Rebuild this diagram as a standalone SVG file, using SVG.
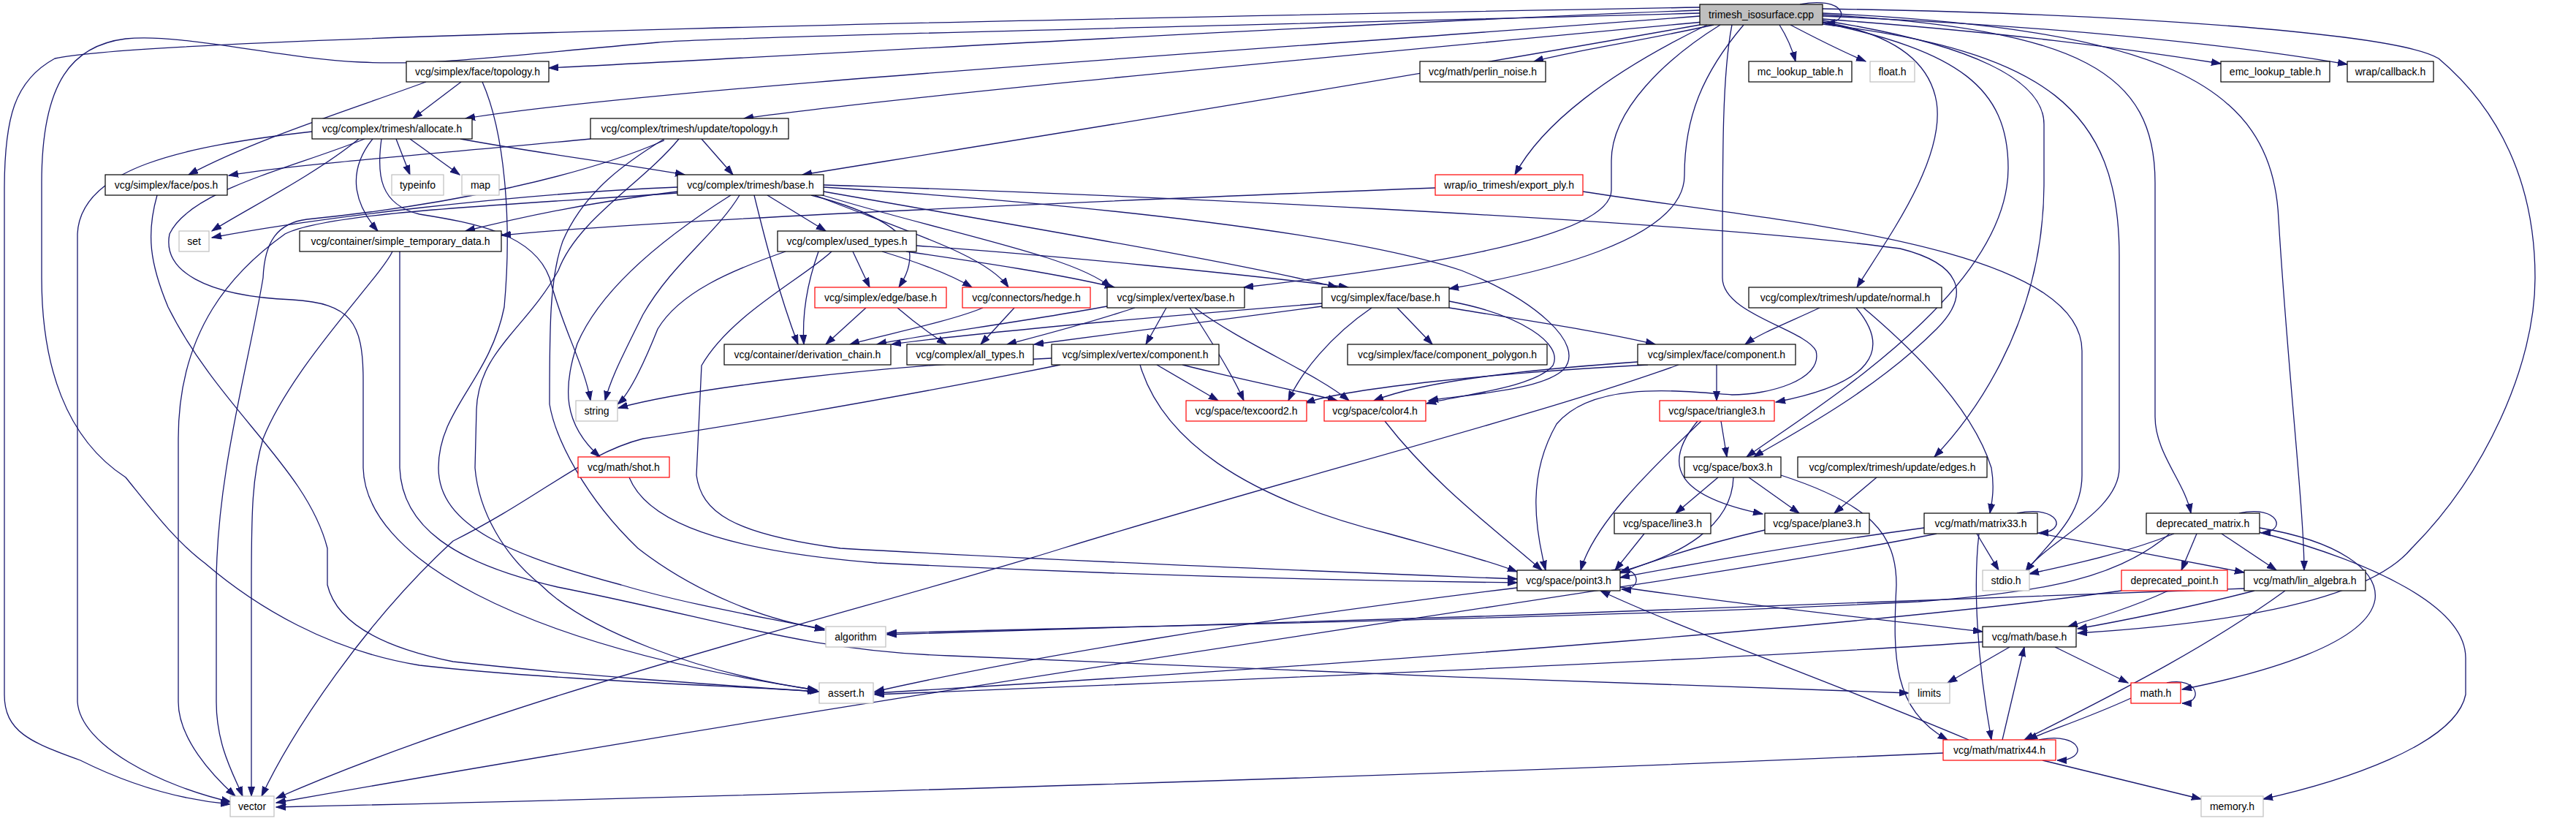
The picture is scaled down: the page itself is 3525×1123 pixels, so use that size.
<svg xmlns="http://www.w3.org/2000/svg" width="3525" height="1123" viewBox="0 0 3525 1123">
<defs>
<style>
.node rect{fill:#fff;stroke:#000;stroke-width:1.2}
.node.g rect{stroke:#bfbfbf}
.node.r rect{stroke:#ff0000}
.node.root rect{fill:#bfbfbf;stroke:#000}
.node text{font-family:"Liberation Sans",Arial,sans-serif;font-size:14px;text-anchor:middle;fill:#000}
#edges path{fill:none;stroke:#191970;stroke-width:1.3;marker-end:url(#ah)}
</style>
<marker id="ah" markerWidth="14" markerHeight="10" refX="13" refY="5" orient="auto" markerUnits="userSpaceOnUse">
<path d="M0,0.5 L13,5 L0,9.5 z" fill="#191970" stroke="#191970" stroke-width="1"/>
</marker>
</defs>
<rect width="3525" height="1123" fill="#fff"/>
<g id="edges">
<path d="M2326,14 C1900,30 1200,70 751,93"/>
<path d="M2326,22 C1700,70 900,120 637,162"/>
<path d="M2330,30 C1800,80 1250,130 1018,162"/>
<path d="M2345,34 C2250,55 2150,70 2099,84"/>
<path d="M2435,34 C2445,50 2452,65 2457,84"/>
<path d="M2450,34 C2490,55 2520,70 2553,84"/>
<path d="M2494,26 C2750,45 2900,65 3039,87"/>
<path d="M2494,22 C2800,35 3050,60 3212,88"/>
<path d="M2326,34 C1900,110 1400,190 1098,239"/>
<path d="M2336,34 C2200,100 2110,170 2073,239"/>
<path d="M2354,34 C2280,80 2205,150 2205,220 L2205,260 C2205,330 1900,370 1702,393"/>
<path d="M2386,34 C2330,100 2305,160 2305,240 C2305,330 2100,375 1983,395"/>
<path d="M2494,30 C2585,45 2640,80 2650,140 C2662,220 2580,330 2541,393"/>
<path d="M2494,28 C2700,60 2797,110 2797,170 L2797,250 C2797,450 2690,580 2647,625"/>
<path d="M2494,31 C2680,70 2748,120 2748,230 C2748,400 2480,560 2390,625"/>
<path d="M2370,34 C2357,100 2357,200 2357,380 C2357,430 2470,450 2485,480 C2495,520 2420,540 2370,540 C2300,535 2180,520 2130,580 C2090,650 2100,720 2115,780"/>
<path d="M2494,33 C2800,70 2900,150 2900,350 L2900,640 C2900,700 2800,740 2772,782"/>
<path d="M2494,20 C2850,40 2949,100 2949,250 L2949,570 C2949,620 2990,660 2998,702"/>
<path d="M2494,18 C2950,40 3110,110 3118,300 C3130,500 3153,700 3153,780"/>
<path d="M2494,12 C2900,18 3280,45 3337,80 C3420,150 3469,250 3469,380 C3469,500 3400,650 3300,750 C3250,810 3100,850 2843,866"/>
<path d="M2326,10 C1500,25 200,50 75,80 C20,110 6,160 6,260 L6,950 C6,1000 40,1015 110,1040 C190,1080 260,1095 315,1100"/>
<path d="M2326,18 C1700,35 1000,50 900,58 C700,75 600,90 494,85 C380,80 250,45 172,53 C100,62 57,110 57,250 L57,380 C57,500 90,600 172,653 C210,700 240,740 280,770 C350,830 450,890 574,910 C750,930 1000,938 1121,946"/>
<path d="M2463,6 C2525,-6 2535,30 2498,32"/>
<path d="M631,112 L565,162"/>
<path d="M583,112 C480,150 350,190 258,239"/>
<path d="M660,112 C690,180 701,300 690,420 C670,520 600,560 600,640 C600,720 700,760 850,800 C950,830 1080,850 1128,862"/>
<path d="M542,190 L561,239"/>
<path d="M561,190 L629,239"/>
<path d="M491,190 C430,240 330,290 290,316"/>
<path d="M510,190 C470,240 490,285 517,316"/>
<path d="M630,190 C750,212 860,225 937,239"/>
<path d="M427,180 C250,200 110,230 106,320 L106,960 C110,1020 220,1075 316,1097"/>
<path d="M522,190 C515,240 520,280 574,293 C650,305 730,320 752,380 C770,450 800,500 808,548"/>
<path d="M499,190 C400,230 260,260 232,320 C222,370 280,405 400,410 C480,415 497,440 497,520 L497,640 C500,760 700,880 1118,944"/>
<path d="M808,190 C600,210 400,225 313,240"/>
<path d="M960,190 L1003,239"/>
<path d="M929,190 C880,250 790,300 764,370 C720,450 655,480 652,560 L650,640 C655,700 690,760 740,800 C800,860 950,920 1118,944"/>
<path d="M909,190 C860,220 800,260 770,330 C752,380 752,450 752,553 C760,600 800,680 873,750 C950,810 1050,850 1128,860"/>
<path d="M909,192 C800,240 620,280 420,300 C380,305 362,330 360,380 C340,500 296,650 296,800 L296,960 C296,1020 320,1060 332,1089"/>
<path d="M215,267 C200,320 205,360 230,420 C300,560 420,640 448,750 L448,800 C460,850 520,885 620,905 C800,925 1000,938 1118,946"/>
<path d="M1050,267 L1130,316"/>
<path d="M927,256 C700,265 420,300 290,325"/>
<path d="M927,262 C820,275 720,295 637,316"/>
<path d="M927,264 C700,280 450,290 390,320 C320,370 244,450 244,600 L244,960 C244,1010 290,1060 322,1089"/>
<path d="M1012,267 C980,320 920,360 880,430 C850,490 835,520 828,548"/>
<path d="M1032,267 C1045,320 1065,400 1092,471"/>
<path d="M1110,267 C1200,290 1245,320 1245,350 C1245,370 1235,385 1230,393"/>
<path d="M1115,267 C1250,320 1350,350 1380,393"/>
<path d="M1122,266 C1300,320 1470,350 1520,393"/>
<path d="M1127,262 C1400,310 1700,360 1830,393"/>
<path d="M1000,267 C900,330 820,400 790,470 C770,530 770,580 821,625"/>
<path d="M1127,256 C1500,280 1850,320 2000,370 C2100,410 2170,470 2140,505 C2110,535 2000,540 1955,548"/>
<path d="M1127,253 C1500,265 2300,300 2600,340 C2680,360 2700,400 2650,450 C2560,540 2440,600 2400,625"/>
<path d="M1167,344 L1190,393"/>
<path d="M1207,344 C1260,360 1300,375 1330,393"/>
<path d="M1240,344 C1350,360 1450,375 1525,393"/>
<path d="M1254,336 C1450,350 1700,375 1845,393"/>
<path d="M1120,344 C1100,400 1098,440 1100,471"/>
<path d="M1075,344 C1000,370 930,400 900,450 C880,500 860,540 845,553"/>
<path d="M1138,344 C1100,380 1000,430 960,500 L953,650 C960,700 1000,730 1150,750 C1500,770 1900,785 2076,792"/>
<path d="M1185,421 L1130,471"/>
<path d="M1228,421 C1250,440 1270,455 1295,471"/>
<path d="M1345,421 C1300,440 1200,460 1163,471"/>
<path d="M1388,421 L1342,471"/>
<path d="M1515,419 C1400,440 1250,460 1200,471"/>
<path d="M1553,421 C1480,445 1420,460 1378,471"/>
<path d="M1596,421 L1568,471"/>
<path d="M1628,421 C1660,470 1690,520 1702,548"/>
<path d="M1635,421 C1700,470 1800,510 1846,548"/>
<path d="M1809,415 C1500,440 1300,460 1220,471"/>
<path d="M1809,419 C1650,440 1500,460 1415,471"/>
<path d="M1912,421 L1960,471"/>
<path d="M1983,421 C2100,440 2200,455 2265,471"/>
<path d="M1877,421 C1820,460 1780,510 1763,548"/>
<path d="M1983,412 C2080,430 2140,470 2125,500 C2100,530 2000,540 1952,552"/>
<path d="M2490,421 C2450,440 2410,455 2388,471"/>
<path d="M2540,421 C2590,480 2560,525 2430,550"/>
<path d="M2550,421 C2620,480 2700,560 2725,640 C2730,670 2725,690 2723,702"/>
<path d="M2349,499 L2349,548"/>
<path d="M2241,495 C2100,505 1950,520 1880,548"/>
<path d="M2255,499 C2050,510 1850,530 1786,551"/>
<path d="M2297,499 C2100,570 1780,650 1454,750 C1200,830 700,950 378,1092"/>
<path d="M1583,499 L1667,548"/>
<path d="M1618,499 C1700,520 1780,535 1830,548"/>
<path d="M1439,490 C1200,500 950,530 846,558"/>
<path d="M1451,499 C1200,550 950,590 880,600 C800,620 740,680 620,740 C500,850 400,1000 358,1089"/>
<path d="M1560,499 C1590,600 1700,680 1900,730 C1990,755 2040,768 2076,782"/>
<path d="M1895,576 C1960,660 2040,720 2110,780"/>
<path d="M2355,576 L2363,625"/>
<path d="M2328,576 C2250,650 2180,720 2163,780"/>
<path d="M2323,576 C2270,640 2300,680 2412,703"/>
<path d="M2351,653 L2293,702"/>
<path d="M2393,653 L2462,702"/>
<path d="M2372,653 C2370,720 2300,760 2217,782"/>
<path d="M2437,650 C2560,690 2595,730 2595,800 C2590,900 2590,970 2665,1012"/>
<path d="M2568,653 L2510,702"/>
<path d="M2250,730 L2210,780"/>
<path d="M2415,725 C2350,740 2280,760 2217,784"/>
<path d="M2633,722 C2500,740 2350,765 2217,790"/>
<path d="M2760,702 C2820,690 2830,728 2790,729"/>
<path d="M2705,730 L2735,780"/>
<path d="M2708,730 C2700,800 2705,900 2725,1012"/>
<path d="M2788,729 C2900,750 3000,770 3071,783"/>
<path d="M2650,730 C2300,800 1500,900 378,1098"/>
<path d="M861,653 C880,700 950,750 1200,770 C1600,790 1900,795 2076,797"/>
<path d="M2205,780 C2245,770 2250,808 2219,806"/>
<path d="M2076,804 C1700,850 1400,900 1197,946"/>
<path d="M2217,803 C2400,830 2600,850 2713,864"/>
<path d="M2750,885 L2665,934"/>
<path d="M2812,885 L2912,934"/>
<path d="M2713,878 C2400,900 1700,930 1197,950"/>
<path d="M2740,1012 L2770,885"/>
<path d="M2694,1012 C2500,930 2300,860 2190,808"/>
<path d="M2795,1040 L3012,1093"/>
<path d="M2790,1012 C2850,1000 2860,1040 2815,1040"/>
<path d="M2659,1030 C2000,1060 1000,1090 378,1104"/>
<path d="M2916,955 C2850,985 2800,1000 2775,1012"/>
<path d="M2965,934 C3010,925 3015,962 2986,962"/>
<path d="M3085,808 C3000,830 2900,850 2843,860"/>
<path d="M3127,808 C3000,900 2850,970 2770,1012"/>
<path d="M3071,805 C2500,830 1800,850 1214,868"/>
<path d="M2967,808 C2920,830 2870,845 2830,857"/>
<path d="M2903,808 C2600,850 2000,900 1197,948"/>
<path d="M3064,702 C3120,690 3130,728 3094,729"/>
<path d="M2975,730 C2900,760 2820,775 2777,785"/>
<path d="M3006,730 L2985,780"/>
<path d="M3040,730 L3115,780"/>
<path d="M2969,730 C2900,790 2800,810 2625,823 C2200,845 1600,855 1214,866"/>
<path d="M3092,722 C3200,740 3255,780 3250,820 C3240,880 3100,920 2986,943"/>
<path d="M3092,728 C3250,770 3374,830 3374,900 L3374,950 C3360,1020 3200,1070 3097,1093"/>
<path d="M1964,257 C1500,275 900,300 686,322"/>
<path d="M2166,262 C2400,300 2849,330 2849,480 L2849,650 C2849,710 2800,745 2772,782"/>
<path d="M537,344 C520,380 400,500 360,600 C345,650 344,700 344,800 L344,1089"/>
<path d="M547,344 L547,640 C550,720 620,770 763,803 C1000,850 1100,890 1300,897 C1700,915 2200,935 2612,948"/>
</g>
<g id="n1" class="node root"><rect x="2326" y="6" width="168" height="28"/><text x="2410" y="25">trimesh_isosurface.cpp</text></g>
<g id="n2" class="node"><rect x="556" y="84" width="195" height="28"/><text x="653.5" y="103">vcg/simplex/face/topology.h</text></g>
<g id="n3" class="node"><rect x="1943" y="84" width="172" height="28"/><text x="2029" y="103">vcg/math/perlin_noise.h</text></g>
<g id="n4" class="node"><rect x="2393" y="84" width="141" height="28"/><text x="2463.5" y="103">mc_lookup_table.h</text></g>
<g id="n5" class="node g"><rect x="2559" y="84" width="61" height="28"/><text x="2589.5" y="103">float.h</text></g>
<g id="n6" class="node"><rect x="3039" y="84" width="149" height="28"/><text x="3113.5" y="103">emc_lookup_table.h</text></g>
<g id="n7" class="node"><rect x="3212" y="84" width="118" height="28"/><text x="3271" y="103">wrap/callback.h</text></g>
<g id="n8" class="node"><rect x="427" y="162" width="219" height="28"/><text x="536.5" y="181">vcg/complex/trimesh/allocate.h</text></g>
<g id="n9" class="node"><rect x="808" y="162" width="271" height="28"/><text x="943.5" y="181">vcg/complex/trimesh/update/topology.h</text></g>
<g id="n10" class="node"><rect x="144" y="239" width="167" height="28"/><text x="227.5" y="258">vcg/simplex/face/pos.h</text></g>
<g id="n11" class="node g"><rect x="536" y="239" width="71" height="28"/><text x="571.5" y="258">typeinfo</text></g>
<g id="n12" class="node g"><rect x="632" y="239" width="51" height="28"/><text x="657.5" y="258">map</text></g>
<g id="n13" class="node"><rect x="927" y="239" width="200" height="28"/><text x="1027" y="258">vcg/complex/trimesh/base.h</text></g>
<g id="n14" class="node r"><rect x="1964" y="239" width="202" height="28"/><text x="2065" y="258">wrap/io_trimesh/export_ply.h</text></g>
<g id="n15" class="node g"><rect x="245" y="316" width="41" height="28"/><text x="265.5" y="335">set</text></g>
<g id="n16" class="node"><rect x="410" y="316" width="276" height="28"/><text x="548" y="335">vcg/container/simple_temporary_data.h</text></g>
<g id="n17" class="node"><rect x="1064" y="316" width="190" height="28"/><text x="1159" y="335">vcg/complex/used_types.h</text></g>
<g id="n18" class="node r"><rect x="1115" y="393" width="180" height="28"/><text x="1205" y="412">vcg/simplex/edge/base.h</text></g>
<g id="n19" class="node r"><rect x="1317" y="393" width="175" height="28"/><text x="1404.5" y="412">vcg/connectors/hedge.h</text></g>
<g id="n20" class="node"><rect x="1515" y="393" width="188" height="28"/><text x="1609" y="412">vcg/simplex/vertex/base.h</text></g>
<g id="n21" class="node"><rect x="1809" y="393" width="174" height="28"/><text x="1896" y="412">vcg/simplex/face/base.h</text></g>
<g id="n22" class="node"><rect x="2393" y="393" width="264" height="28"/><text x="2525" y="412">vcg/complex/trimesh/update/normal.h</text></g>
<g id="n23" class="node"><rect x="991" y="471" width="228" height="28"/><text x="1105" y="490">vcg/container/derivation_chain.h</text></g>
<g id="n24" class="node"><rect x="1241" y="471" width="173" height="28"/><text x="1327.5" y="490">vcg/complex/all_types.h</text></g>
<g id="n25" class="node"><rect x="1439" y="471" width="229" height="28"/><text x="1553.5" y="490">vcg/simplex/vertex/component.h</text></g>
<g id="n26" class="node"><rect x="1844" y="471" width="273" height="28"/><text x="1980.5" y="490">vcg/simplex/face/component_polygon.h</text></g>
<g id="n27" class="node"><rect x="2241" y="471" width="216" height="28"/><text x="2349" y="490">vcg/simplex/face/component.h</text></g>
<g id="n28" class="node g"><rect x="788" y="548" width="57" height="28"/><text x="816.5" y="567">string</text></g>
<g id="n29" class="node r"><rect x="1623" y="548" width="165" height="28"/><text x="1705.5" y="567">vcg/space/texcoord2.h</text></g>
<g id="n30" class="node r"><rect x="1812" y="548" width="139" height="28"/><text x="1881.5" y="567">vcg/space/color4.h</text></g>
<g id="n31" class="node r"><rect x="2271" y="548" width="157" height="28"/><text x="2349.5" y="567">vcg/space/triangle3.h</text></g>
<g id="n32" class="node r"><rect x="791" y="625" width="125" height="28"/><text x="853.5" y="644">vcg/math/shot.h</text></g>
<g id="n33" class="node"><rect x="2305" y="625" width="132" height="28"/><text x="2371" y="644">vcg/space/box3.h</text></g>
<g id="n34" class="node"><rect x="2460" y="625" width="259" height="28"/><text x="2589.5" y="644">vcg/complex/trimesh/update/edges.h</text></g>
<g id="n35" class="node"><rect x="2209" y="702" width="132" height="28"/><text x="2275" y="721">vcg/space/line3.h</text></g>
<g id="n36" class="node"><rect x="2415" y="702" width="143" height="28"/><text x="2486.5" y="721">vcg/space/plane3.h</text></g>
<g id="n37" class="node"><rect x="2633" y="702" width="155" height="28"/><text x="2710.5" y="721">vcg/math/matrix33.h</text></g>
<g id="n38" class="node"><rect x="2937" y="702" width="155" height="28"/><text x="3014.5" y="721">deprecated_matrix.h</text></g>
<g id="n39" class="node"><rect x="2076" y="780" width="141" height="28"/><text x="2146.5" y="799">vcg/space/point3.h</text></g>
<g id="n40" class="node g"><rect x="2713" y="780" width="64" height="28"/><text x="2745" y="799">stdio.h</text></g>
<g id="n41" class="node r"><rect x="2903" y="780" width="145" height="28"/><text x="2975.5" y="799">deprecated_point.h</text></g>
<g id="n42" class="node"><rect x="3071" y="780" width="166" height="28"/><text x="3154" y="799">vcg/math/lin_algebra.h</text></g>
<g id="n43" class="node g"><rect x="1130" y="857" width="82" height="28"/><text x="1171" y="876">algorithm</text></g>
<g id="n44" class="node"><rect x="2713" y="857" width="128" height="28"/><text x="2777" y="876">vcg/math/base.h</text></g>
<g id="n45" class="node g"><rect x="1121" y="934" width="74" height="28"/><text x="1158" y="953">assert.h</text></g>
<g id="n46" class="node g"><rect x="2612" y="934" width="56" height="28"/><text x="2640" y="953">limits</text></g>
<g id="n47" class="node r"><rect x="2916" y="934" width="68" height="28"/><text x="2950" y="953">math.h</text></g>
<g id="n48" class="node r"><rect x="2659" y="1012" width="154" height="28"/><text x="2736" y="1031">vcg/math/matrix44.h</text></g>
<g id="n49" class="node g"><rect x="315" y="1089" width="60" height="28"/><text x="345" y="1108">vector</text></g>
<g id="n50" class="node g"><rect x="3012" y="1089" width="85" height="28"/><text x="3054.5" y="1108">memory.h</text></g>
</svg>
